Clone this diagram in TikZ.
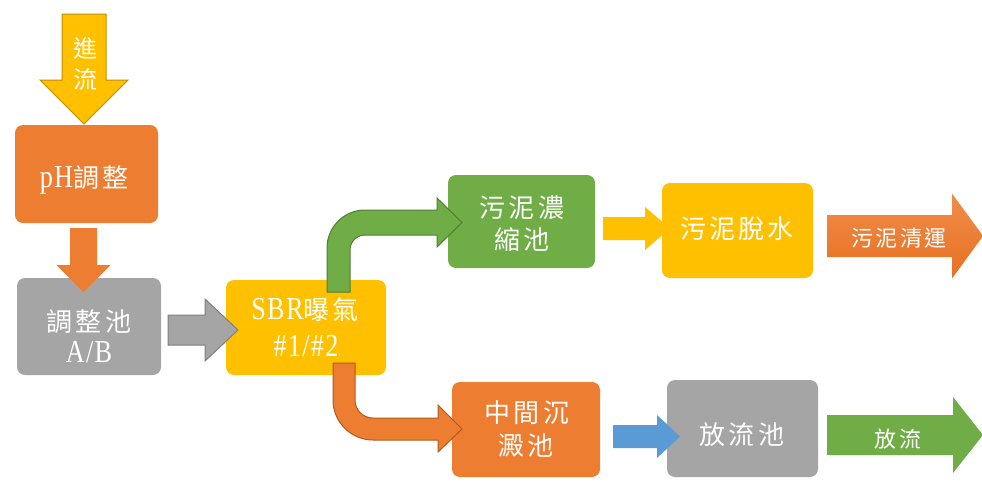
\documentclass[tikz,border=0pt]{standalone}
\usepackage{fontspec}
\setmainfont{Liberation Serif}[FakeStretch=0.82, LetterSpace=4]
\newfontfamily\cjk[LetterSpace=12]{Noto Sans CJK TC}
\definecolor{cOrange}{HTML}{ED7D31}
\definecolor{cOrangeL}{HTML}{F08C4C}
\definecolor{cOrangeB}{HTML}{E8711F}
\definecolor{cOrangeD}{HTML}{AE5A21}
\definecolor{cGray}{HTML}{A5A5A5}
\definecolor{cGrayD}{HTML}{7F7F7F}
\definecolor{cYellow}{HTML}{FFC000}
\definecolor{cYellowD}{HTML}{BF9000}
\definecolor{cGreen}{HTML}{70AD47}
\definecolor{cGreenD}{HTML}{507E32}
\definecolor{cBlue}{HTML}{5B9BD5}
\newcommand\rArrowShape[7]{\path[#1] (#2,#5-#6) -- (#3,#5-#6) -- (#3,#5-#7) -- (#4,#5) -- (#3,#5+#7) -- (#3,#5+#6) -- (#2,#5+#6) -- cycle;}
\newcommand\dArrowShape[7]{\path[#1] (#5-#6,#2) -- (#5-#6,#3) -- (#5-#7,#3) -- (#5,#4) -- (#5+#7,#3) -- (#5+#6,#3) -- (#5+#6,#2) -- cycle;}
\newcommand\latin[1]{{\fontsize{32pt}{36pt}\selectfont #1}}
\tikzset{
  box/.style={rounded corners=8pt, inner sep=0pt, draw=none},
  txt/.style={text=white, inner sep=0pt, font=\fontsize{26pt}{31pt}\selectfont},
  smalltxt/.style={text=white, inner sep=0pt, font=\fontsize{22pt}{26pt}\selectfont},
  outl/.style={line width=1pt, line join=miter},
}
\begin{document}
\begin{tikzpicture}[x=1pt,y=-1pt]
\useasboundingbox (0,0) rectangle (982,483);
\fill[white] (0,0) rectangle (982,483);
% boxes
\node[box, fill=cOrange, minimum width=143pt, minimum height=98pt] (ph) at (86.5,174) {};
\node[box, fill=cGray, minimum width=144pt, minimum height=97pt] (tz) at (89,326.5) {};
\node[box, fill=cYellow, minimum width=160pt, minimum height=95pt] (sbr) at (306,327.5) {};
\node[box, fill=cGreen, minimum width=147pt, minimum height=93pt] (nong) at (521.5,221.5) {};
\node[box, fill=cYellow, minimum width=151pt, minimum height=95pt] (tuo) at (737.5,230.5) {};
\node[box, fill=cOrange, minimum width=148pt, minimum height=95pt] (mid) at (526,429.5) {};
\node[box, fill=cGray, minimum width=151pt, minimum height=97pt] (fang) at (742.5,428.5) {};
% arrows
\dArrowShape{fill=cYellow, draw=cYellowD, outl}{14}{80}{124}{84}{22}{44}
\dArrowShape{fill=cOrange}{228}{265}{292}{83.5}{13.5}{27}
\rArrowShape{fill=cGray, draw=cGrayD, outl}{168}{205}{238}{330}{15}{31}
\path[fill=cGreen, draw=cGreenD, outl]
  (327,292) -- (327,248) .. controls (327,227) and (344,210) .. (365,210)
  -- (437,210) -- (437,198) -- (462,222.5) -- (437,247) -- (437,235)
  -- (365,235) .. controls (356.7,235) and (350,241.7) .. (350,250)
  -- (350,292) -- cycle;
\path[fill=cOrange, draw=cOrangeD, outl]
  (333,363) -- (333,400) .. controls (333,422) and (351,440) .. (373,440)
  -- (438,440) -- (438,452) -- (462,429) -- (438,405) -- (438,418)
  -- (373,418) .. controls (363,418) and (355,410) .. (355,400)
  -- (355,363) -- cycle;
\rArrowShape{fill=cYellow}{603}{645}{670}{228.5}{11.5}{21.5}
\rArrowShape{top color=cOrangeL, bottom color=cOrangeB}{827}{952}{983}{236}{21}{42.5}
\rArrowShape{fill=cBlue}{613}{657}{680}{436.5}{11.5}{21.5}
\rArrowShape{fill=cGreen}{827}{953}{983}{435}{20}{38}
% texts
\node[txt, font=\fontsize{24pt}{28pt}\selectfont] (in1) at (85,48) {\cjk 進};
\node[txt, font=\fontsize{24pt}{28pt}\selectfont] (in2) at (85,79) {\cjk 流};
\node[txt] (phT) at (84,180) {\latin{pH}{\cjk 調整}};
\node[txt] (tzT1) at (89,322) {\cjk 調整池};
\node[txt] (tzT2) at (89,352) {\latin{A/B}};
\node[txt] (sbrT1) at (305,310) {\latin{SBR}{\cjk 曝氣}};
\node[txt] (sbrT2) at (306,346) {\latin{\#1/\#2}};
\node[txt] (nongT1) at (522,208) {\cjk 污泥濃};
\node[txt] (nongT2) at (522,240) {\cjk 縮池};
\node[txt] (tuoT) at (737,229) {\cjk 污泥脫水};
\node[smalltxt] (qyT) at (899,238) {\cjk 污泥清運};
\node[txt] (midT1) at (527,413) {\cjk 中間沉};
\node[txt] (midT2) at (526,446) {\cjk 澱池};
\node[txt] (fangT) at (742,435) {\cjk 放流池};
\node[smalltxt] (flT) at (898,439) {\cjk 放流};
\end{tikzpicture}
\end{document}
